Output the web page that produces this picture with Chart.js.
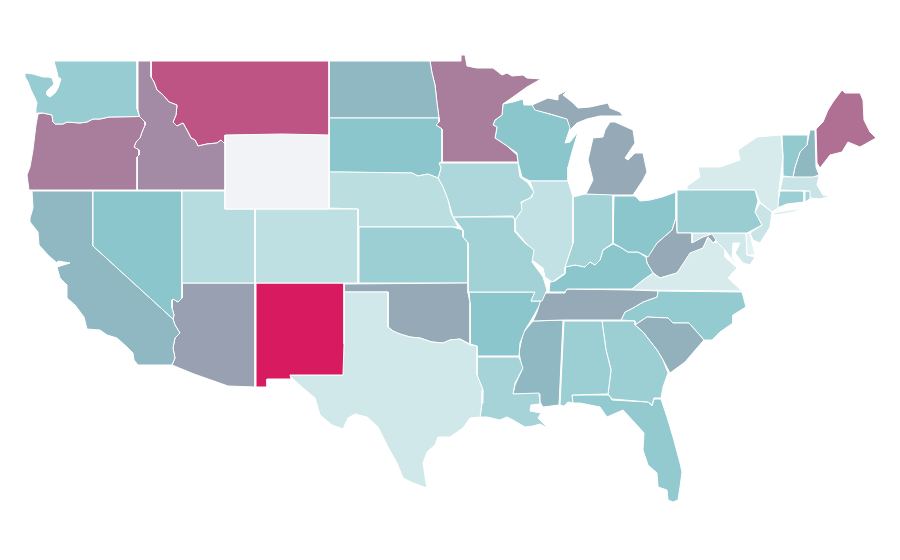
<!DOCTYPE html>
<html>
<head>
<meta charset="utf-8">
<title>US states</title>
<style>
	html, body { margin: 0; padding: 0; background: #fff; }
	#wrap { width: 900px; height: 560px; }
</style>
<script src="https://cdn.jsdelivr.net/npm/chart.js@4"></script>
</head>
<body>
<div id="wrap"><canvas id="myChart" width="900" height="560"></canvas></div>
<script>
// state shapes, in map units
const WA = [[54,61],[137,61],[137,109],[139,115],[139.5,116.5],[109,117],[100,119],[93,119],[87,122],[80,123],[67,122],[63,124],[55,124],[53,122],[52,115],[43,113],[38,113],[36,114],[36,108],[37,103],[35,98],[31,90],[28,82],[25,77],[25,73],[33,74],[43,77],[48,77],[52,78],[54,84],[50,88],[47,91],[47,95],[50,97],[55,93],[58,88],[60,82],[61,79],[58,77],[57,72],[55,65]]
const OR = [[38,114],[43,113],[52,115],[53,122],[55,124],[63,124],[67,122],[80,123],[87,122],[93,119],[100,119],[109,117],[139.5,116.5],[145,122],[145,125],[142,132],[140,138],[136,142],[134,147],[139,150],[139,155],[137,157],[137,190],[29,190],[27,175],[30,167],[33,150],[35,133],[36,125]]
const ID = [[138,61],[151,61],[151,77],[154,82],[157,90],[163,95],[169,102],[177,105],[176,115],[173,122],[177,126],[183,123],[188,132],[191,138],[195,140],[198,146],[207,144],[217,143],[221,140],[225,144],[225,190],[137,190],[137,157],[139,155],[139,150],[134,147],[136,142],[140,138],[142,132],[145,125],[145,122],[139.5,116.5],[138,110]]
const MT = [[151,61],[329,61],[329,135],[282,134],[225,135],[225,144],[221,140],[217,143],[207,144],[198,146],[195,140],[191,138],[188,132],[183,123],[177,126],[173,122],[176,115],[177,105],[169,102],[163,95],[157,90],[154,82],[151,77]]
const WY = [[225,135],[282,134],[329,135],[329,209],[255,209],[225,209]]
const UT = [[182,191],[225,191],[225,209],[255,209],[255,283],[182,283]]
const CO = [[255,209],[329,209],[358,209],[358,283],[255,283]]
const NV = [[93,191],[182,191],[182,298],[178,302],[173,299],[172,300],[172,308],[174,315],[173,319],[93,246]]
const CA = [[32,191],[93,191],[93,246],[173,319],[175,325],[180,333],[175,338],[173,348],[175,358],[172,365],[138,365],[134,360],[133,353],[127,347],[117,338],[107,335],[100,330],[87,329],[84,317],[75,305],[67,298],[67,285],[60,278],[57,267],[70,263],[58,261],[57,263],[48,255],[39,245],[38,232],[30,222],[30,218],[33,208]]
const AZ = [[182,283],[255,283],[255,387],[228,386],[194,374],[172,365],[175,358],[173,348],[175,338],[180,333],[175,325],[173,319],[174,315],[172,308],[172,300],[173,299],[178,302],[182,298]]
const NM = [[256,283],[344,283],[344,344],[343,375],[290,375],[291,379],[267,379],[267,387],[256,387]]
const TX = [[344,292],[388,292],[388,327],[393,331],[400,334],[410,337],[420,338],[432,342],[443,343],[450,340],[460,339],[470,345],[477,346],[477,375],[483,390],[482,403],[480,417],[470,418],[463,428],[450,437],[438,437],[435,445],[427,452],[423,463],[426,483],[427,488],[413,483],[403,478],[397,463],[388,447],[378,427],[367,417],[355,414],[348,418],[343,429],[332,425],[320,415],[315,398],[303,388],[291,377],[290,375],[343,375],[344,344]]
const OK = [[344,284],[468,283],[468,293],[470,303],[470,344],[460,339],[450,340],[443,343],[432,342],[420,338],[410,337],[400,334],[393,331],[388,327],[388,292],[344,292]]
const KS = [[359,227],[453,227],[463,230],[463,237],[468,243],[468,283],[359,283]]
const NE = [[329,172],[343,172],[412,173],[418,176],[428,174],[438,178],[443,187],[448,200],[451,213],[458,227],[358,227],[358,209],[329,208]]
const SD = [[329,118],[439,118],[439,122],[436,125],[442,129],[442,162],[439,163],[441,168],[438,178],[428,174],[418,176],[412,173],[329,172]]
const ND = [[329,61],[430,61],[432,73],[435,85],[437,103],[439,118],[329,118]]
const MN = [[430,61],[461,61],[461,55],[465,55],[467,66],[477,68],[493,68],[502,75],[507,73],[512,76],[523,75],[527,78],[541,79],[527,87],[513,97],[503,104],[502,115],[495,120],[493,125],[497,127],[495,138],[507,146],[517,155],[518,162],[442,162],[442,129],[436,125],[439,122],[439,118],[437,103],[435,85],[432,73]]
const IA = [[439,163],[518,163],[520,177],[528,183],[534,192],[530,198],[521,202],[522,210],[515,220],[513,216],[453,217],[448,200],[443,187],[438,178],[441,168]]
const MO = [[453,217],[513,217],[515,220],[515,232],[525,243],[534,250],[532,262],[543,277],[547,290],[542,301],[531,301],[535,292],[468,292],[468,243],[463,237],[463,230]]
const IL = [[530,181],[568,181],[573,197],[573,243],[565,267],[565,273],[552,282],[545,277],[543,268],[532,260],[533,250],[525,242],[515,230],[515,220],[520,213],[522,202],[532,197],[533,190]]
const WI = [[503,104],[513,102],[523,99],[524,105],[532,105],[535,110],[553,115],[567,119],[570,128],[565,143],[570,142],[578,132],[572,152],[568,167],[568,181],[530,181],[522,177],[518,162],[517,153],[507,146],[495,138],[497,127],[493,125],[495,120],[502,115]]
const MI_UPPER = [[532,105],[548,98],[558,100],[558,95],[568,90],[563,95],[572,102],[578,108],[590,107],[608,103],[610,108],[620,112],[623,116],[600,116],[587,119],[577,123],[570,130],[567,122],[563,118],[550,114],[533,110]]
const MI_LOWER = [[610,122],[615,122],[633,130],[635,143],[625,158],[628,160],[635,153],[643,153],[647,172],[643,180],[633,195],[613,195],[586,194],[593,180],[588,160],[593,138],[603,137],[605,130]]
const IN = [[573,197],[585,194],[613,194],[613,243],[603,250],[600,260],[595,265],[590,262],[585,267],[575,265],[565,267],[573,243]]
const OH = [[614,196],[635,196],[640,201],[650,200],[662,197],[676,192],[676,217],[672,230],[657,243],[648,257],[638,252],[628,252],[620,247],[613,243]]
const KY = [[613,244],[620,247],[628,252],[638,252],[646,257],[647,263],[653,273],[643,280],[632,289],[567,289],[565,292],[549,292],[550,282],[555,281],[565,274],[565,267],[575,265],[585,267],[590,262],[595,265],[600,260],[603,250]]
const TN = [[543,293],[565,293],[566,289],[632,290],[658,291],[657,297],[643,302],[633,308],[625,312],[621,320],[563,320],[533,321],[537,312]]
const AR = [[469,292],[535,292],[531,301],[542,301],[533,317],[525,330],[520,343],[519,356],[477,356],[477,346],[470,344],[470,303]]
const LA = [[477,357],[519,357],[523,368],[515,383],[513,394],[539,393],[540,404],[531,405],[530,411],[541,413],[538,418],[548,428],[540,424],[533,426],[525,427],[513,420],[507,417],[500,420],[487,417],[480,417],[482,403],[483,390],[477,375]]
const MS = [[533,321],[563,320],[559,405],[543,407],[540,402],[540,394],[513,394],[515,385],[522,370],[519,352],[523,333]]
const AL = [[564,321],[602,321],[606,350],[611,370],[608,394],[572,395],[573,403],[568,402],[564,406],[560,405]]
const GA = [[602,321],[635,321],[635,325],[643,332],[657,350],[663,360],[668,373],[663,387],[661,398],[654,398],[652,405],[648,402],[612,399],[608,394],[611,370],[606,350]]
const FL = [[572,395],[609,395],[612,400],[648,402],[652,406],[654,399],[661,399],[667,417],[673,437],[680,463],[682,472],[680,487],[678,500],[673,502],[668,500],[667,490],[658,487],[657,473],[648,465],[643,450],[644,433],[635,423],[623,410],[607,417],[600,407],[580,403],[572,403]]
const SC = [[635,325],[647,317],[668,318],[673,323],[689,323],[704,340],[697,348],[685,362],[670,373],[663,360],[657,350],[643,332]]
const NC = [[621,320],[625,312],[633,308],[643,302],[657,297],[658,291],[742,292],[746,307],[733,315],[733,323],[720,332],[712,340],[704,340],[689,323],[673,323],[668,318],[647,317],[635,325],[635,321]]
const VA = [[632,289],[643,280],[653,273],[660,278],[677,273],[690,253],[703,248],[708,237],[713,243],[717,242],[725,250],[725,257],[737,268],[728,278],[742,291],[632,290]]
const WV = [[676,217],[677,233],[692,233],[692,243],[703,237],[712,234],[716,240],[713,243],[708,237],[703,248],[690,255],[677,273],[660,278],[653,273],[647,263],[646,257],[657,243],[672,230]]
const PA = [[677,190],[687,190],[755,190],[758,201],[755,212],[762,225],[747,233],[677,233]]
const NY = [[687,186],[700,177],[698,167],[720,167],[740,160],[738,150],[757,137],[781,135],[783,157],[779,190],[778,208],[772,212],[760,202],[755,190],[687,190]]
const NY_LONG_ISLAND = [[773,213],[803,208],[793,212],[775,215]]
const VT = [[782,135],[808,135],[807,145],[800,152],[795,167],[793,177],[783,176],[783,157]]
const NH = [[810,130],[815,130],[816,167],[819,175],[813,177],[793,177],[795,167],[800,152],[807,145]]
const ME = [[816,129],[823,122],[828,110],[833,102],[842,90],[845,93],[860,93],[863,100],[864,120],[870,132],[876,138],[860,147],[848,142],[842,152],[830,155],[820,168],[817,163]]
const MA = [[783,177],[819,176],[817,185],[823,195],[830,196],[820,199],[810,198],[810,191],[780,190]]
const CT = [[780,191],[804,191],[804,202],[787,204],[777,208]]
const RI = [[805,191],[810,191],[811,198],[805,202]]
const NJ = [[760,203],[772,212],[770,227],[760,243],[753,240],[750,233],[762,225],[755,212]]
const DE = [[746,233],[750,233],[755,255],[747,255]]
const MD = [[692,233],[746,233],[747,255],[755,257],[750,265],[743,263],[735,253],[740,243],[733,243],[732,257],[738,268],[725,250],[717,242],[710,234],[702,238],[692,243]]

const stateNames = ['Washington', 'Oregon', 'Idaho', 'Montana', 'Wyoming', 'Utah', 'Colorado', 'Nevada', 'California', 'Arizona', 'New Mexico', 'Texas', 'Oklahoma', 'Kansas', 'Nebraska', 'South Dakota', 'North Dakota', 'Minnesota', 'Iowa', 'Missouri', 'Illinois', 'Wisconsin', 'Michigan', 'Michigan', 'Indiana', 'Ohio', 'Kentucky', 'Tennessee', 'Arkansas', 'Louisiana', 'Mississippi', 'Alabama', 'Georgia', 'Florida', 'South Carolina', 'North Carolina', 'Virginia', 'West Virginia', 'Pennsylvania', 'New York', 'New York', 'Vermont', 'New Hampshire', 'Maine', 'Massachusetts', 'Connecticut', 'Rhode Island', 'New Jersey', 'Delaware', 'Maryland']
const stateShapes = [WA, OR, ID, MT, WY, UT, CO, NV, CA, AZ, NM, TX, OK, KS, NE, SD, ND, MN, IA, MO, IL, WI, MI_UPPER, MI_LOWER, IN, OH, KY, TN, AR, LA, MS, AL, GA, FL, SC, NC, VA, WV, PA, NY, NY_LONG_ISLAND, VT, NH, ME, MA, CT, RI, NJ, DE, MD]
const stateValues = [35.5, 68.5, 64.5, 82, 0, 25, 22, 40, 47, 58, 100, 16, 55, 34, 23.5, 40, 47, 68.5, 28, 32, 21, 40, 55, 55, 31.6, 40, 39.7, 55, 39.7, 31, 47, 34, 34, 37, 51, 36.5, 14, 55, 35, 14, 14, 37, 47, 73, 19, 34, 31, 19, 10, 16]

const rampValues = [0, 10, 40, 55, 100]
const rampColors = [[242, 243, 246], [227, 241, 242], [138, 198, 204], [149, 169, 183], [216, 27, 96]]

function colorFor(value) {
	let i = 0
	while (i < rampValues.length - 2 && value > rampValues[i + 1]) {
		i++
	}
	const t = (value - rampValues[i]) / (rampValues[i + 1] - rampValues[i])
	const c = rampColors[i].map((from, k) => Math.round(from + (rampColors[i + 1][k] - from) * t))
	return `rgb(${c[0]},${c[1]},${c[2]})`
}

const datasets = stateShapes.map((shape, i) => ({
	label: stateNames[i],
	data: shape.concat([shape[0]]), // back to the start so the border closes
	showLine: true,
	fill: 'shape',
	backgroundColor: colorFor(stateValues[i]),
	borderColor: '#fff',
	borderWidth: 1,
	pointRadius: 0,
	tension: 0
}))

new Chart(document.getElementById('myChart'), {
	type: 'scatter',
	data: { datasets },
	options: {
		responsive: false,
		animation: false,
		layout: { padding: 0 },
		plugins: {
			legend: { display: false },
			title: { display: false },
			tooltip: { enabled: false }
		},
		scales: {
			x: { type: 'linear', min: 0, max: 900, display: false },
			y: { type: 'linear', min: 0, max: 560, reverse: true, display: false }
		}
	}
})
</script>
</body>
</html>
